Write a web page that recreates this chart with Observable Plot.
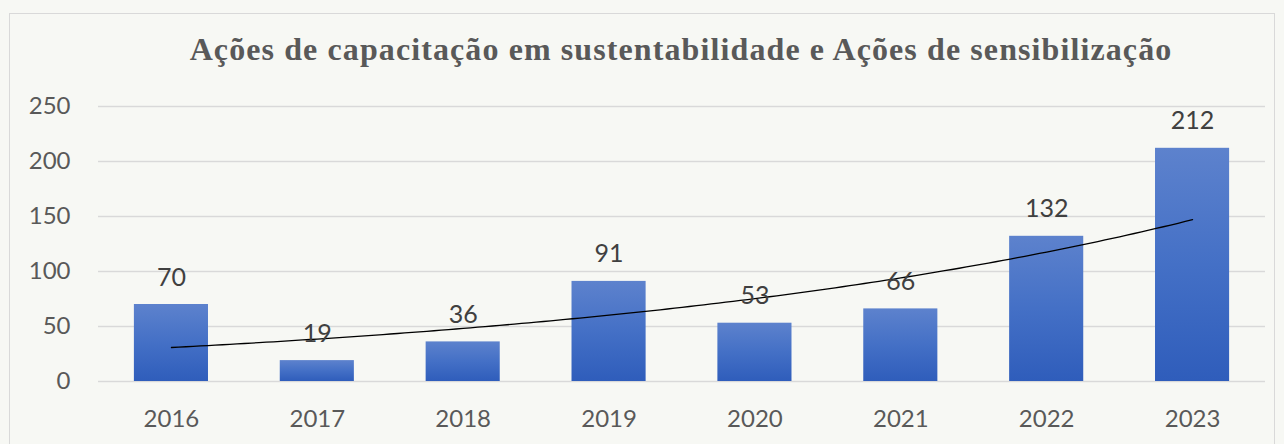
<!DOCTYPE html>
<html>
<head>
<meta charset="utf-8">
<script src="https://cdn.jsdelivr.net/npm/d3@7"></script>
<script src="https://cdn.jsdelivr.net/npm/@observablehq/plot@0.6"></script>
<style>
  html, body { margin: 0; padding: 0; background: #f7f8f4; width: 1284px; height: 444px; overflow: hidden; }
  #frame { position: absolute; left: 9px; top: 13px; width: 1266px; height: 440px; border: 1.5px solid #d9d9d9; box-sizing: border-box; }
  #title { position: absolute; left: 0; top: 31px; width: 1362px; text-align: center; font-family: "Liberation Serif", serif; font-weight: bold; font-size: 32px; letter-spacing: 1.1px; color: #595959; white-space: nowrap; }
  #chart { position: absolute; left: 0; top: 80px; }
</style>
</head>
<body>
<div id="frame"></div>
<div id="title">Ações de capacitação em sustentabilidade e Ações de sensibilização</div>
<div id="chart"></div>
<script>
const years = [2016, 2017, 2018, 2019, 2020, 2021, 2022, 2023];
const values = [70, 19, 36, 91, 53, 66, 132, 212];
const yTicks = [0, 50, 100, 150, 200, 250];

const data = years.map((year, i) => ({year, value: values[i]}));

// Exponential trendline (least squares on ln y), as the spreadsheet computes it
const n = years.length;
const xs = years.map((_, i) => i);
const ls = values.map(v => Math.log(v));
const mx = d3.mean(xs), ml = d3.mean(ls);
const slope = d3.sum(xs.map((x, i) => (x - mx) * (ls[i] - ml))) / d3.sum(xs.map(x => (x - mx) ** 2));
const icpt = ml - slope * mx;
const trend = d3.range(0, n - 1 + 1e-9, 0.05).map(t => ({year: years[0] + t, value: Math.exp(icpt + slope * t)}));

const halfW = 0.254;
const font = "Lato, 'Open Sans', sans-serif";

const plot = Plot.plot({
  width: 1284,
  height: 364,
  marginLeft: 98,
  marginRight: 19,
  marginTop: 26,
  marginBottom: 63,
  style: {background: "transparent", fontFamily: font, overflow: "visible"},
  x: {domain: [years[0] - 0.5, years[n - 1] + 0.5], axis: null},
  y: {domain: [0, 250], axis: null},
  marks: [
    Plot.ruleY(yTicks, {stroke: "#d9d9d9", strokeWidth: 1.5}),
    Plot.rectY(data, {x1: d => d.year - halfW, x2: d => d.year + halfW, y1: 0, y2: "value", fill: "url(#barGrad)", ariaLabel: "bars"}),
    Plot.line(trend, {x: "year", y: "value", stroke: "#000", strokeWidth: 1.3, curve: "linear"}),
    Plot.text(data, {x: "year", y: "value", text: d => String(d.value), lineAnchor: "bottom", dy: -19, fill: "#404040", fontSize: 25}),
    Plot.text(years, {x: d => d, y: 0, text: d => String(d), frameAnchor: "bottom", lineAnchor: "top", dy: 28, fill: "#595959", fontSize: 24}),
    Plot.text(yTicks, {x: years[0] - 0.5, y: d => d, text: d => String(d), textAnchor: "end", dx: -28, fill: "#595959", fontSize: 24})
  ]
});

const ns = "http://www.w3.org/2000/svg";
const defs = document.createElementNS(ns, "defs");
defs.innerHTML = `
  <linearGradient id="barGrad" x1="0" y1="0" x2="0" y2="1">
    <stop offset="0" stop-color="#5d82cd"/>
    <stop offset="0.5" stop-color="#4470c6"/>
    <stop offset="1" stop-color="#2f5dbb"/>
  </linearGradient>
  <filter id="barShadow" x="-20%" y="-20%" width="140%" height="140%">
    <feDropShadow dx="1.5" dy="1.5" stdDeviation="1.8" flood-color="#000" flood-opacity="0.3"/>
  </filter>`;
plot.insertBefore(defs, plot.firstChild);
plot.querySelectorAll('g[aria-label="bars"] rect').forEach(r => r.setAttribute("filter", "url(#barShadow)"));
document.getElementById("chart").appendChild(plot);
</script>
</body>
</html>
